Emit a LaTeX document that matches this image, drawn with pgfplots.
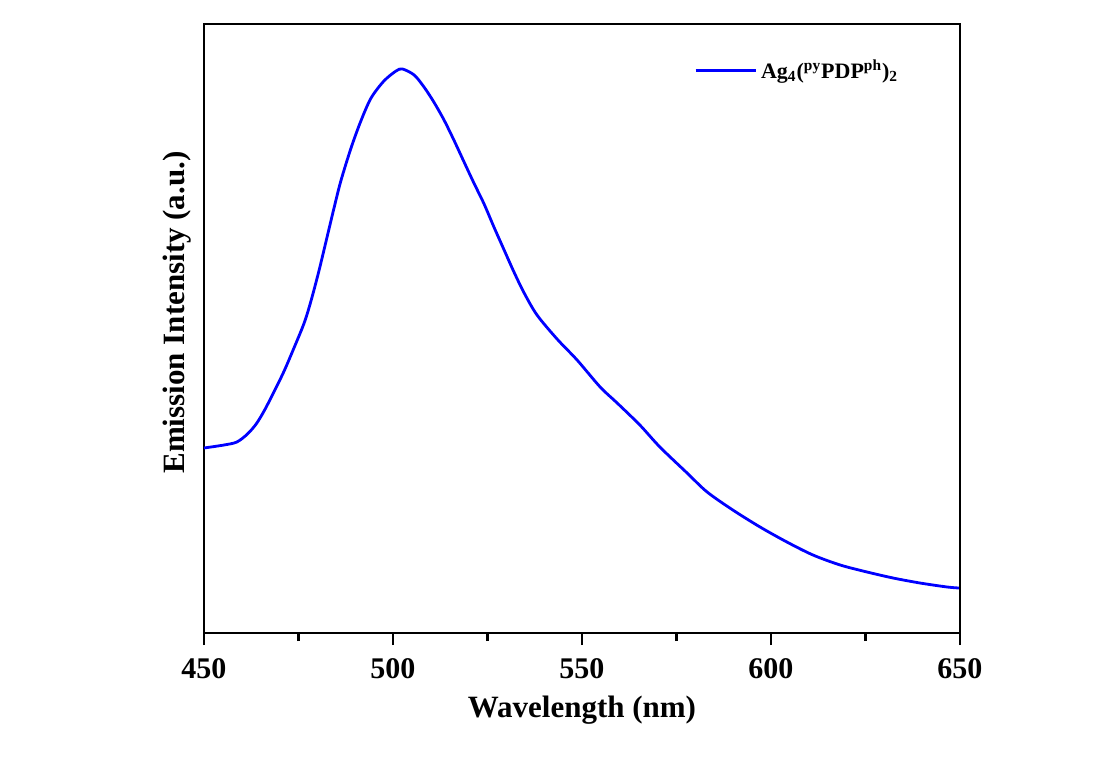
\documentclass[border=0pt]{standalone}
\usepackage{fontspec}
\setmainfont{Liberation Serif}
\usepackage{pgfplots}
\pgfplotsset{compat=1.18}
\definecolor{pblue}{RGB}{0,0,255}

\begin{document}
\begin{tikzpicture}
\begin{axis}[
    scale only axis,
    width=378pt, height=304.5pt,
    at={(0,0)}, anchor=south west,
    xmin=450, xmax=650,
    ymin=0, ymax=609,
    xtick={450,500,...,650},
    minor xtick={475,525,...,625},
    ytick=\empty,
    xtick pos=bottom,
    tick align=outside,
    major tick length=6pt,
    minor tick length=4pt,
    every tick/.style={black, line width=1.1pt},
    axis line style={line width=1.3pt},
    tick label style={font=\fontsize{15}{18}\selectfont\bfseries},
    /pgf/number format/assume math mode=true,
    xticklabel style={yshift=-3pt},
    xlabel={\fontsize{15.5}{18}\selectfont\bfseries Wavelength (nm)},
    ylabel={\fontsize{15.5}{18}\selectfont\bfseries Emission Intensity (a.u.)},
    xlabel style={yshift=-2pt},
    ylabel style={yshift=-3pt, xshift=8pt},
    legend style={at={(0.64,0.955)}, anchor=north west, draw=none, fill=none,
        font=\fontsize{11}{13}\selectfont\bfseries},
    legend cell align=left,
    legend image code/.code={\draw[#1] (0pt,0pt) -- (30pt,0pt);},
]
\addplot[pblue, line width=1.4pt, smooth] coordinates {
(450.0,185) (455.3,188) (458.7,191) (461.5,199) (463.8,209) (465.9,222)
(468.5,241) (471.2,262) (473.8,285) (476.5,310) (478.3,332) (480.4,362)
(482.5,395) (484.4,425) (486.2,452) (488.9,485) (491.5,512) (494.2,535)
(497.6,552) (500.8,562) (502.5,564) (505.6,558) (508.2,546) (510.8,531)
(513.5,513) (516.1,493) (518.8,471) (521.4,450) (524.1,429) (526.7,406)
(529.4,383) (532.0,361) (534.7,340) (538.1,318) (543.4,294) (548.7,273)
(554.8,246) (559.3,230) (565.3,208) (570.6,186) (577.8,160) (583.1,141)
(589.9,123) (597.1,106) (604.2,91) (611.1,78) (618.3,68) (625.4,61)
(632.3,55) (639.4,50) (646.6,46) (649.7,45)
};
\addlegendentry{Ag\textsubscript{4}(\textsuperscript{py}PDP\textsuperscript{ph})\textsubscript{2}}
\end{axis}
\useasboundingbox (-102pt,-67pt) rectangle (448pt,316.5pt);
\end{tikzpicture}
\end{document}
